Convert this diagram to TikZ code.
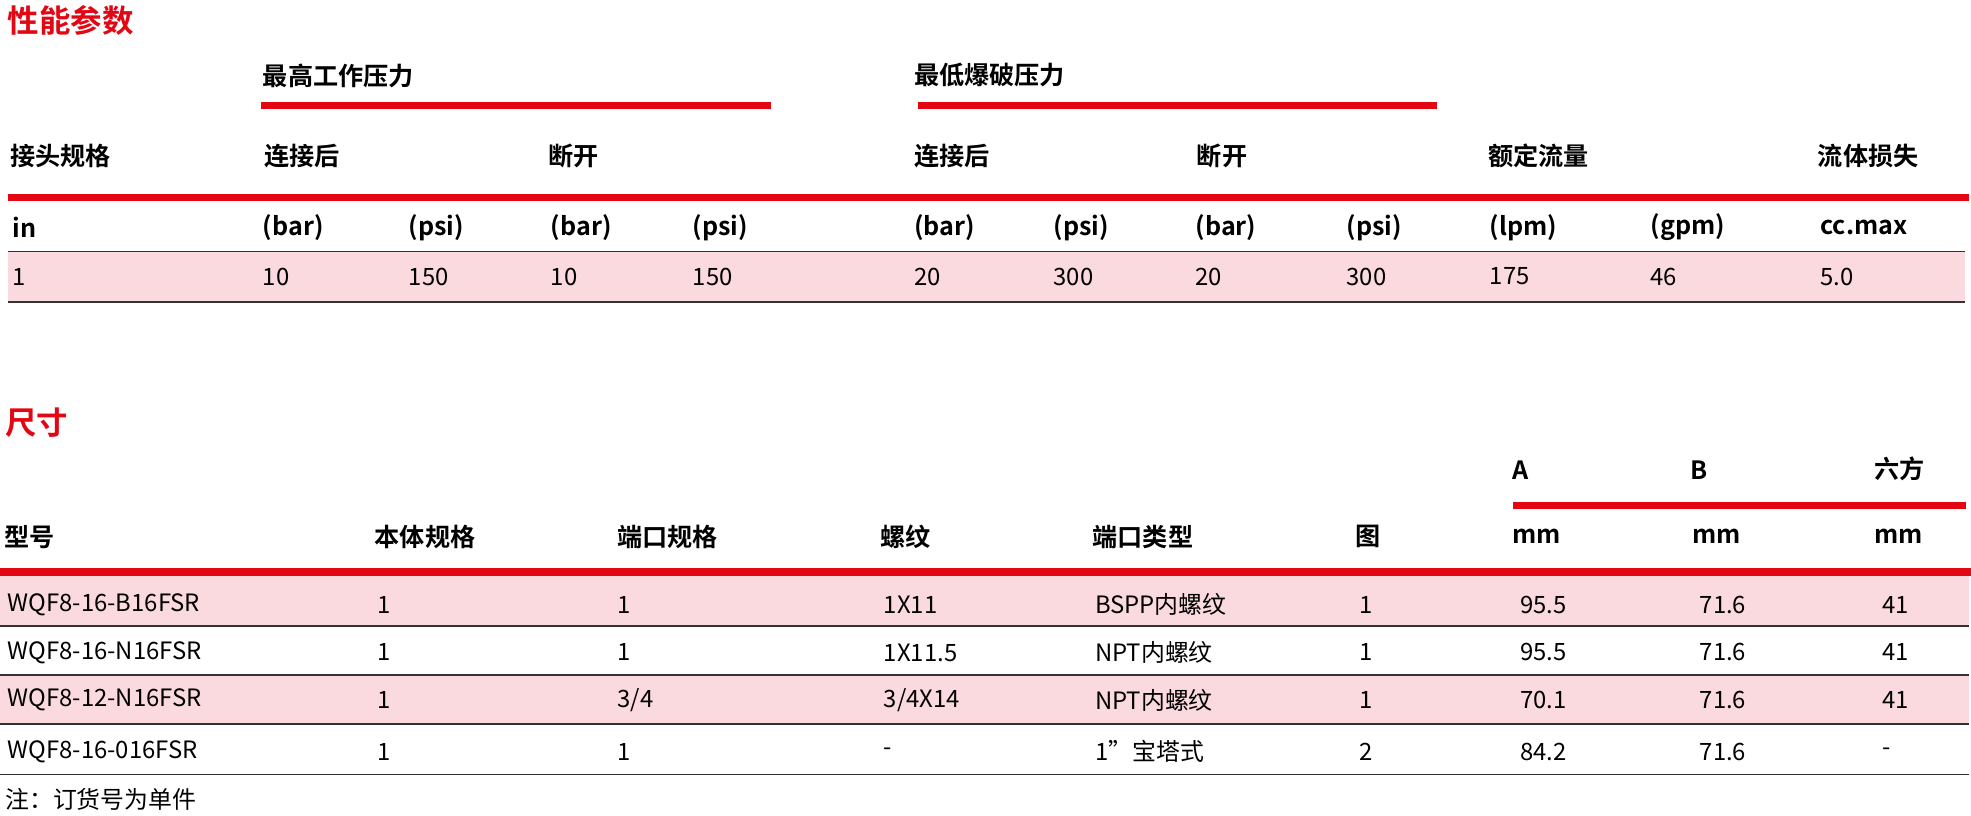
\documentclass[tikz,border=0pt]{standalone}
\usepackage{fontspec}
\setmainfont{Noto Sans CJK SC}
\newfontfamily\cjkb{Noto Sans CJK SC Bold}
\definecolor{rd}{HTML}{E30613}
\definecolor{pk}{HTML}{FADADF}
\definecolor{ln}{HTML}{333333}
\begin{document}
\begin{tikzpicture}[x=1pt,y=-1pt,
  every node/.style={inner sep=0pt,anchor=west},
  ttl/.style={font=\cjkb\fontsize{25}{25}\selectfont,text=rd},
  hd/.style={font=\cjkb\fontsize{20}{20}\selectfont},
  dt/.style={font=\fontsize{19}{19}\selectfont},
  rbar/.style={fill=rd,draw=none},
  pkrow/.style={fill=pk,draw=none},
  thin/.style={draw=ln,line width=1.3pt}]
\useasboundingbox (0,0) rectangle (1568,648.5);
% ---- section 1
\node[ttl] (t1) at (6,16) {性能参数};
\node[hd] (g1) at (209,60) {最高工作压力};
\node[hd] (g2) at (727,60) {最低爆破压力};
\fill[rbar] (208,81) rectangle (613,87);
\fill[rbar] (730,81) rectangle (1143,87);
\foreach \x/\t [count=\i] in {8/接头规格,210/连接后,436/断开,727/连接后,952/断开,1184/额定流量,1446/流体损失}
  \node[hd] (h\i) at (\x,124) {\t};
\fill[rbar] (6,154) rectangle (1566,160);
\foreach \x/\t [count=\i] in {10/in,209/(bar),325/(psi),438/(bar),551/(psi),727/(bar),838/(psi),951/(bar),1071/(psi),1185/(lpm),1313/(gpm),1448/cc.max}
  \node[hd] (u\i) at (\x,181) {\t};
\fill[pkrow] (6,200) rectangle (1563,240);
\draw[thin] (6,200) -- (1563,200);
\draw[thin] (6,240) -- (1563,240);
\foreach \x/\t [count=\i] in {10/1,209/10,325/150,438/10,551/150,727/20,838/300,951/20,1071/300,1185/175,1313/46,1448/5.0}
  \node[dt] (v\i) at (\x,220) {\t};
% ---- section 2
\node[ttl] (t2) at (4,336) {尺寸};
\node[hd] (ca) at (1203,374) {A};
\node[hd] (cb) at (1345,374) {B};
\node[hd] (cc) at (1491,373) {六方};
\fill[rbar] (1204,399) rectangle (1564,405);
\foreach \x/\t [count=\i] in {3/型号,298/本体规格,491/端口规格,700/螺纹,869/端口类型,1078/图,1203/mm,1346/mm,1491/mm}
  \node[hd] (k\i) at (\x,427) {\t};
\fill[rbar] (0,452) rectangle (1568,458);
\fill[pkrow] (0,458) rectangle (1566,498);
\fill[pkrow] (0,537) rectangle (1566,576);
\foreach \y in {498,537,576,616} \draw[thin] (0,\y) -- (1566,\y);
\foreach \y/\a/\b/\c/\d/\e/\f/\g/\h/\k [count=\r] in {
  481/WQF8-16-B16FSR/1/1/1X11/BSPP内螺纹/1/95.5/71.6/41,
  519/WQF8-16-N16FSR/1/1/1X11.5/NPT内螺纹/1/95.5/71.6/41,
  557/WQF8-12-N16FSR/1/3\slash4/3\slash4X14/NPT内螺纹/1/70.1/71.6/41,
  598/WQF8-16-016FSR/1/1/-/1"宝塔式/2/84.2/71.6/-}{
  \node[dt] (r\r a) at (6,\y) {\a};
  \node[dt] (r\r b) at (300,\y) {\b};
  \node[dt] (r\r c) at (491,\y) {\c};
  \node[dt] (r\r d) at (703,\y) {\d};
  \node[dt] (r\r e) at (871,\y) {\e};
  \node[dt] (r\r f) at (1081,\y) {\f};
  \node[dt] (r\r g) at (1209,\y) {\g};
  \node[dt] (r\r h) at (1352,\y) {\h};
  \node[dt] (r\r k) at (1497,\y) {\k};
}
\node[dt] (note) at (4,636) {注：订货号为单件};
\end{tikzpicture}
\end{document}
